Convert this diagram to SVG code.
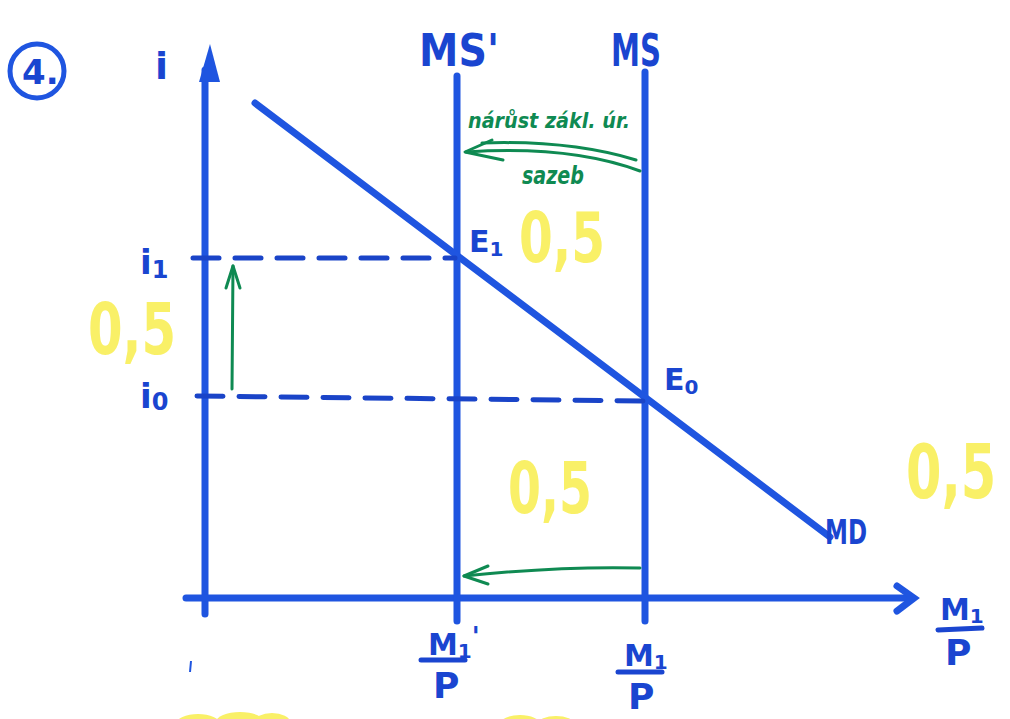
<svg xmlns="http://www.w3.org/2000/svg" width="1010" height="719" viewBox="0 0 1010 719">
<defs>
<style>
.ax{stroke:#1f55e0;stroke-width:7;fill:none;stroke-linecap:round}
.dash{stroke:#1a44c8;stroke-width:5;fill:none;stroke-dasharray:26 16;stroke-linecap:round}
.gr{stroke:#0f8a52;stroke-width:3;fill:none;stroke-linecap:round;stroke-linejoin:round}
.bl{fill:#1a45d0;font-family:"DejaVu Sans","Liberation Sans",sans-serif;font-weight:bold}
.gt{fill:#0f8a52;font-family:"DejaVu Sans","Liberation Sans",sans-serif;font-weight:bold;font-style:italic}
.yl{fill:#f9f067;font-family:"DejaVu Sans","Liberation Sans",sans-serif;font-weight:bold}
.frl{stroke:#1a45d0;stroke-width:5;stroke-linecap:round}
</style>
</defs>
<rect width="1010" height="719" fill="#ffffff"/>
<g id="connectors">
<line class="ax" x1="205" y1="70" x2="205" y2="614"/>
<polygon points="210,44 199,82 220,82" fill="#1f55e0"/>
<line class="ax" x1="186" y1="598" x2="912" y2="598"/>
<polyline class="ax" points="897,586 914,598 897,611"/>
<line class="ax" x1="457" y1="76" x2="457" y2="621"/>
<line class="ax" x1="645" y1="72" x2="645" y2="621"/>
<line class="ax" x1="255" y1="103" x2="830" y2="537"/>
<line class="dash" x1="193" y1="258" x2="455" y2="258"/>
<line class="dash" x1="197" y1="396" x2="643" y2="401"/>
<line class="gr" x1="232" y1="389" x2="233" y2="266"/>
<polyline class="gr" points="226,288 233,266 240,288"/>
<path class="gr" d="M640,568 Q560,566 464,576"/>
<polyline class="gr" points="488,566 464,576 488,584"/>
<path class="gr" d="M640,171 Q570,145 466,152"/>
<path class="gr" d="M636,160 Q570,140 482,143"/>
<polyline class="gr" points="492,140 465,152 503,160"/>
</g>
<g id="label-number"><circle cx="37" cy="71" r="27" fill="none" stroke="#1f55e0" stroke-width="5"/><text class="bl" x="22" y="84" font-size="34">4.</text></g>
<g id="axis-i"><text class="bl" x="155" y="79" font-size="38">i</text></g>
<g id="MS1"><text class="bl" x="419" y="66" font-size="44" textLength="80" lengthAdjust="spacingAndGlyphs">MS'</text></g>
<g id="MS"><text class="bl" x="611" y="66" font-size="44" textLength="50" lengthAdjust="spacingAndGlyphs">MS</text></g>
<g id="note"><text class="gt" x="468" y="128" font-size="22" textLength="162" lengthAdjust="spacingAndGlyphs">nárůst zákl. úr.</text><text class="gt" x="522" y="184" font-size="24" textLength="62" lengthAdjust="spacingAndGlyphs">sazeb</text></g>
<g id="E1"><text class="bl" x="469" y="252" font-size="30">E<tspan font-size="20" dy="4">1</tspan></text></g>
<g id="E0"><text class="bl" x="664" y="390" font-size="30">E<tspan font-size="20" dy="4">0</tspan></text></g>
<g id="i1"><text class="bl" x="140" y="274" font-size="34">i<tspan font-size="24" dy="4">1</tspan></text></g>
<g id="i0"><text class="bl" x="140" y="408" font-size="34">i<tspan font-size="24" dy="2">0</tspan></text></g>
<g id="MD"><text class="bl" x="825" y="544" font-size="34" textLength="42" lengthAdjust="spacingAndGlyphs">MD</text></g>
<g id="frac-m1p-prime"><text class="bl" x="428" y="655" font-size="30">M<tspan font-size="20" dy="3">1</tspan><tspan dy="-12" font-size="26">'</tspan></text><line class="frl" x1="421" y1="660" x2="465" y2="660"/><text class="bl" x="433" y="698" font-size="36">P</text></g>
<g id="frac-m1p"><text class="bl" x="624" y="666" font-size="30">M<tspan font-size="20" dy="3">1</tspan></text><line class="frl" x1="618" y1="672" x2="662" y2="672"/><text class="bl" x="628" y="709" font-size="36">P</text></g>
<g id="frac-axis"><text class="bl" x="940" y="620" font-size="30">M<tspan font-size="20" dy="3">1</tspan></text><line class="frl" x1="938" y1="630" x2="982" y2="628"/><text class="bl" x="945" y="665" font-size="36">P</text></g>
<g id="yellow-scores">
<text class="yl" x="519" y="262" font-size="70" textLength="86" lengthAdjust="spacingAndGlyphs">0,5</text>
<text class="yl" x="88" y="354" font-size="72" textLength="88" lengthAdjust="spacingAndGlyphs">0,5</text>
<text class="yl" x="508" y="513" font-size="72" textLength="84" lengthAdjust="spacingAndGlyphs">0,5</text>
<text class="yl" transform="translate(906,498) scale(1,1.45)" x="0" y="0" font-size="51">0,5</text>
<ellipse cx="198" cy="724" rx="22" ry="10" fill="#f9f067"/>
<ellipse cx="240" cy="722" rx="24" ry="10" fill="#f9f067"/>
<ellipse cx="272" cy="722" rx="18" ry="9" fill="#f9f067"/>
<ellipse cx="520" cy="724" rx="20" ry="9" fill="#f9f067"/>
<ellipse cx="556" cy="724" rx="18" ry="8" fill="#f9f067"/>
</g>
<line x1="191" y1="661" x2="190" y2="672" stroke="#1f55e0" stroke-width="2"/>
</svg>
